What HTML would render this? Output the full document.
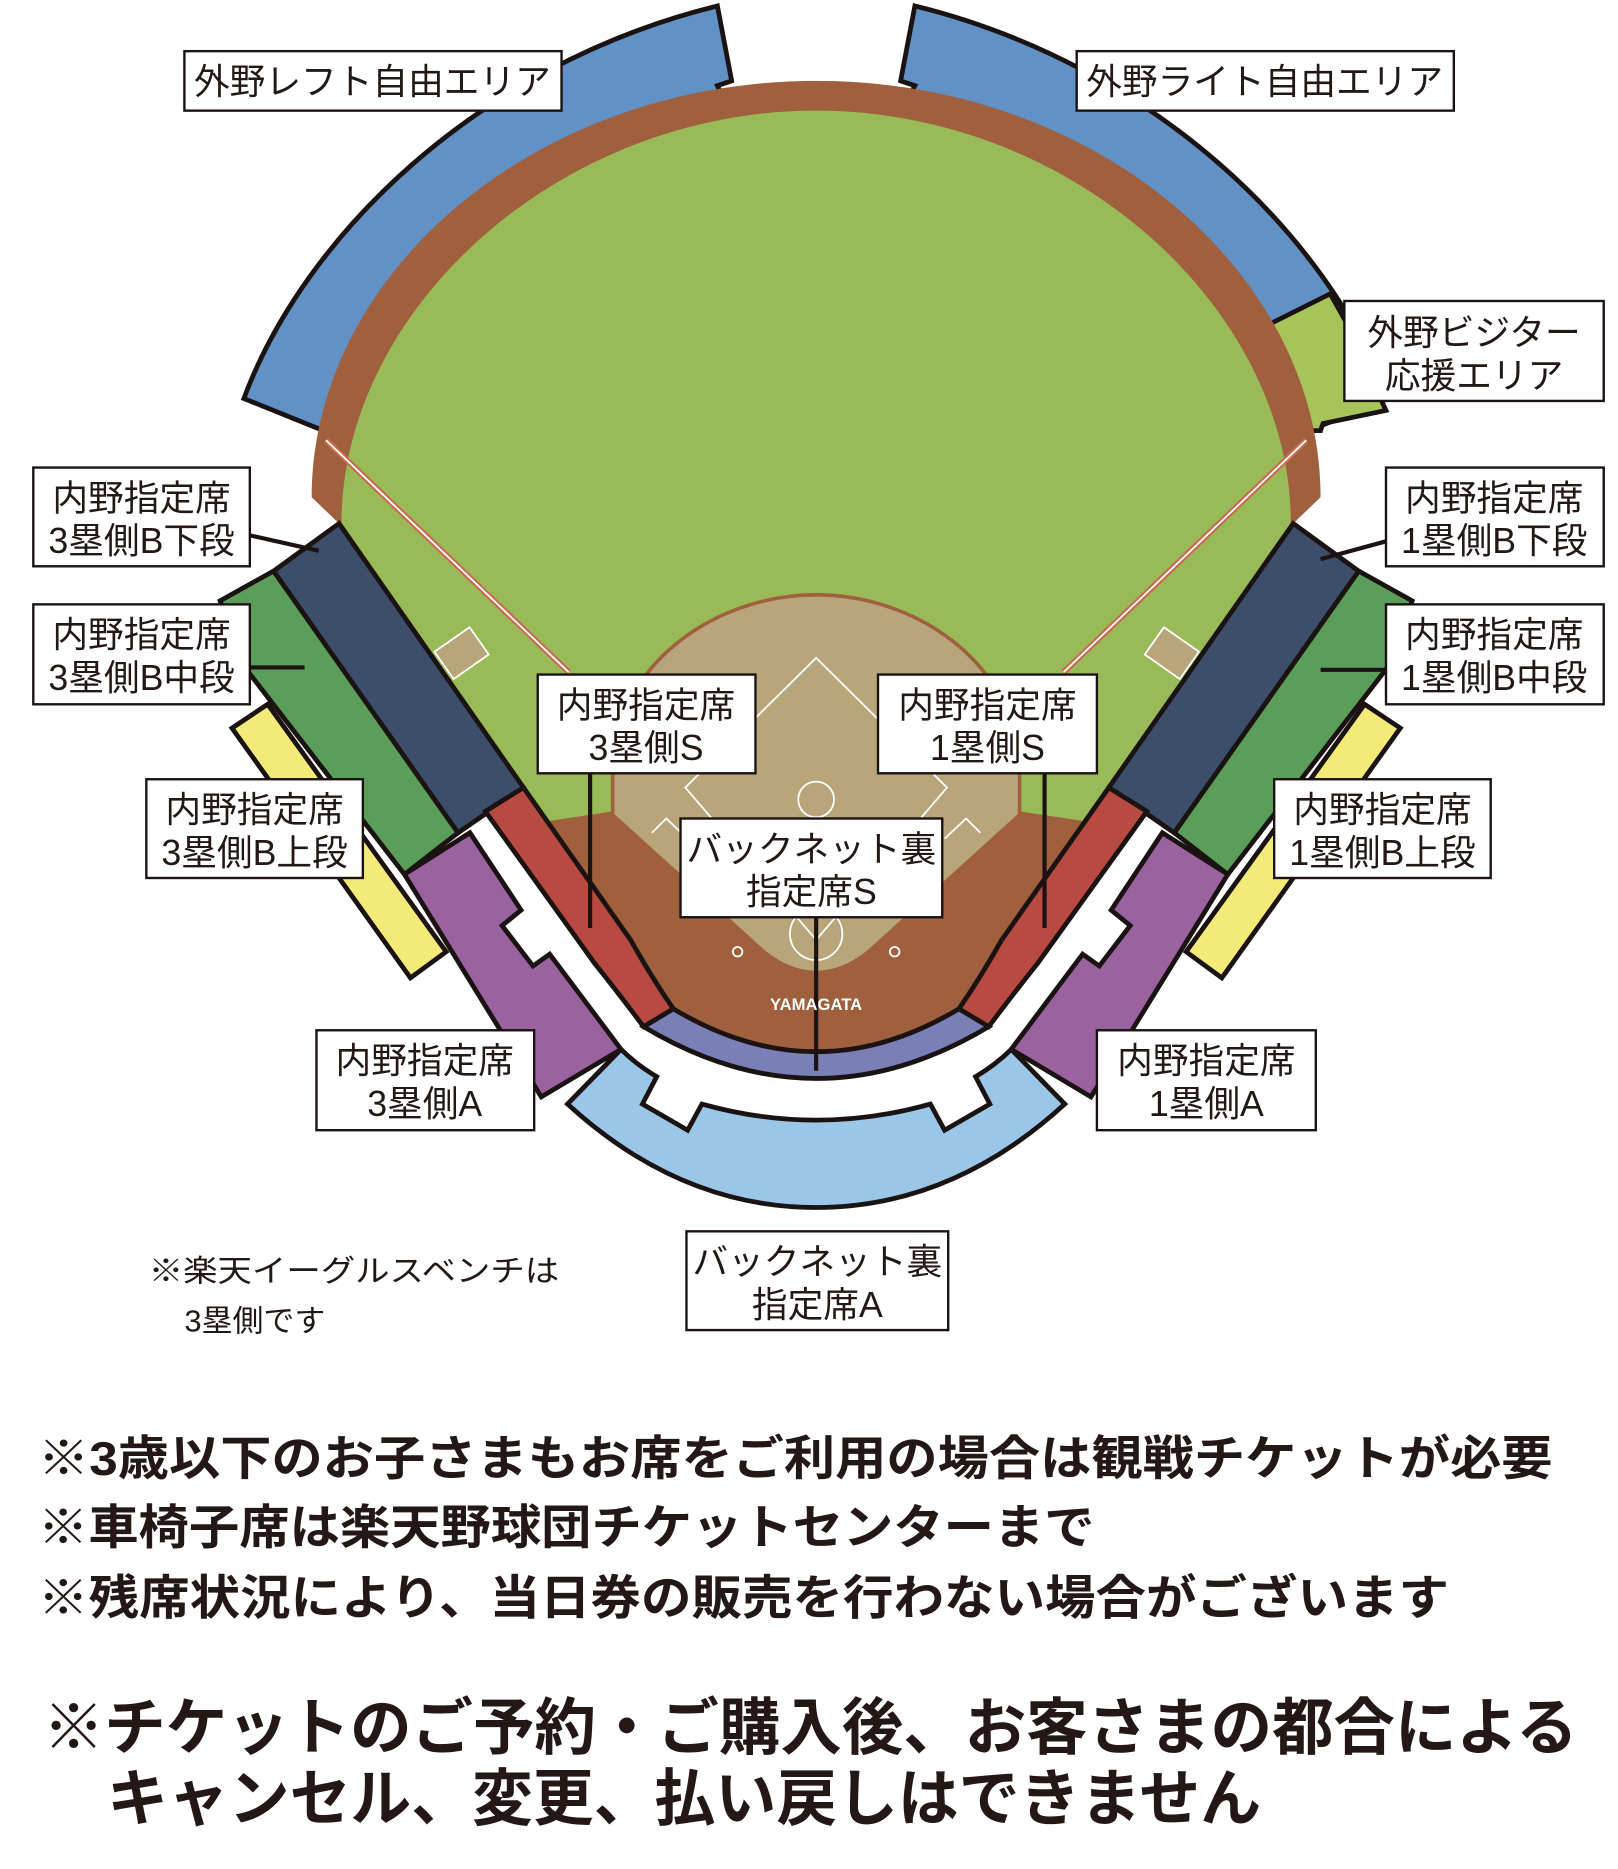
<!DOCTYPE html>
<html><head><meta charset="utf-8"><style>
html,body{margin:0;padding:0;background:#fff;}
svg{display:block;}
text{font-family:"Liberation Sans","Noto Sans CJK JP",sans-serif;fill:#231815;}
.b text{font-weight:bold;}
</style></head><body>
<svg width="1618" height="1869" viewBox="0 0 1360 1571" preserveAspectRatio="none" xmlns="http://www.w3.org/2000/svg">
<g stroke="#1a1311" stroke-width="4" stroke-linejoin="miter">
<path d="M205,335 C255,200 400,55 603,5 L615,68 L603,72 L606,78 C450,110 320,220 272,362 Z" fill="#6291c6"/>
<path d="M1167,335 C1117,200 972,55 769,5 L757,68 L769,72 L766,78 C922,110 1052,220 1100,362 Z" fill="#6291c6"/>
<path d="M1060,276 L1118,247 C1140,285 1152,310 1158,330 L1165,345 L1112,356 L1110,362 L1093,362 C1085,330 1075,300 1060,276 Z" fill="#a6c45a"/>
</g>
<path d="M262,418 C262,230 450,68 686,68 C922,68 1110,230 1110,418 L1087,440 L842,800 L686,900 L530,800 L285,440 Z" fill="#a0603e"/>
<path d="M287,440 C287,260 470,93 686,93 C902,93 1085,260 1085,440 L842,800 L686,900 L530,800 Z" fill="#98bb58"/>
<path d="M462,690 L515,682 L686,805 L857,682 L910,690 L860,820 Q686,960 512,820 Z" fill="#a0603e"/>
<path d="M515,685 L515,650 C515,560 600,500 686,500 C772,500 857,560 857,650 L857,685 L730,800 Q686,835 642,800 Z" fill="#b9a57a" stroke="#a0603e" stroke-width="3"/>
<g stroke="#fff" stroke-width="1.5" fill="none">
<path d="M686,790 L576,662 L686,553 L796,662 Z"/>
<circle cx="686" cy="672" r="15"/>
<circle cx="686" cy="785" r="22"/>
<circle cx="620" cy="800" r="4"/><circle cx="752" cy="800" r="4"/>
<path d="M548,700 L560,688 L578,705"/><path d="M824,700 L812,688 L794,705"/>
</g>
<g stroke="#c86a50" stroke-width="5"><line x1="274" y1="370" x2="478" y2="565"/><line x1="1098" y1="370" x2="894" y2="565"/></g>
<g stroke="#fff" stroke-width="1.5"><line x1="274" y1="370" x2="478" y2="565"/><line x1="1098" y1="370" x2="894" y2="565"/></g>
<rect x="370" y="535" width="36" height="28" fill="#b9a57a" stroke="#fff" stroke-width="1.5" transform="rotate(-35 388 549)"/>
<rect x="967" y="535" width="36" height="28" fill="#b9a57a" stroke="#fff" stroke-width="1.5" transform="rotate(35 985 549)"/>
<g stroke="#1a1311" stroke-width="4" stroke-linejoin="miter">
<g id="L">
<path d="M195,612 L225,592 L375,800 L345,822 Z" fill="#f3ea77"/>
<path d="M185,505 L230,480 L385,700 L340,735 L205,560 Z" fill="#5a9e5a"/>
<path d="M230,480 L285,440 L440,662 L385,700 Z" fill="#3d4e6b"/>
<path d="M408,682 L440,662 L530,790 Q548,822 566,848 L541,863 Q520,835 500,810 Z" fill="#b84a42"/>
<path d="M340,735 L395,700 L438,765 L422,778 L448,812 L462,802 L522,882 L455,922 Z" fill="#9b62a0"/>
</g>
<use href="#L" transform="translate(1372,0) scale(-1,1)"/>
<path d="M566,848 Q686,920 806,848 L831,863 Q686,950 541,863 Z" fill="#7b7fb8"/>
<path d="M522,882 Q535,895 552,905 L540,928 L578,950 L590,928 Q686,955 782,928 L794,950 L832,928 L820,905 Q837,895 850,882 L895,928 Q800,1015 686,1015 Q572,1015 477,928 Z" fill="#9ac6e8"/>
</g>
<g stroke="#1a1311" stroke-width="3.5">
<line x1="210" y1="450" x2="268" y2="463"/><line x1="210" y1="561" x2="256" y2="561"/>
<line x1="1165" y1="455" x2="1110" y2="470"/><line x1="1165" y1="563" x2="1110" y2="563"/>
<line x1="496" y1="650" x2="496" y2="780"/><line x1="878" y1="650" x2="878" y2="780"/>
<line x1="686" y1="771" x2="686" y2="900"/>
</g>
<text x="686" y="849" font-size="14" font-weight="bold" text-anchor="middle" style="fill:#fff">YAMAGATA</text>
<g fill="#fff" stroke="#1a1311" stroke-width="2">
<rect x="155" y="43" width="317" height="50"/><rect x="905" y="43" width="317" height="50"/>
<rect x="1130" y="253" width="218" height="84"/>
<rect x="28" y="393" width="182" height="83"/><rect x="28" y="508" width="182" height="84"/>
<rect x="123" y="655" width="182" height="83"/>
<rect x="1165" y="393" width="183" height="83"/><rect x="1165" y="508" width="183" height="84"/>
<rect x="1071" y="655" width="182" height="83"/>
<rect x="452" y="567" width="183" height="83"/><rect x="738" y="567" width="184" height="83"/>
<rect x="572" y="688" width="220" height="83"/>
<rect x="266" y="866" width="183" height="84"/><rect x="922" y="866" width="184" height="84"/>
<rect x="577" y="1035" width="220" height="83"/>
</g>
<g font-size="30" text-anchor="middle">
<text x="313" y="79">外野レフト自由エリア</text>
<text x="1063" y="79">外野ライト自由エリア</text>
<text x="1239" y="290">外野ビジター</text><text x="1239" y="326">応援エリア</text>
<text x="119" y="429">内野指定席</text><text x="119" y="465">3塁側B下段</text>
<text x="119" y="544">内野指定席</text><text x="119" y="580">3塁側B中段</text>
<text x="214" y="691">内野指定席</text><text x="214" y="727">3塁側B上段</text>
<text x="1256" y="429">内野指定席</text><text x="1256" y="465">1塁側B下段</text>
<text x="1256" y="544">内野指定席</text><text x="1256" y="580">1塁側B中段</text>
<text x="1162" y="691">内野指定席</text><text x="1162" y="727">1塁側B上段</text>
<text x="543" y="603">内野指定席</text><text x="543" y="639">3塁側S</text>
<text x="830" y="603">内野指定席</text><text x="830" y="639">1塁側S</text>
<text x="682" y="724">バックネット裏</text><text x="682" y="760">指定席S</text>
<text x="357" y="902">内野指定席</text><text x="357" y="938">3塁側A</text>
<text x="1014" y="902">内野指定席</text><text x="1014" y="938">1塁側A</text>
<text x="687" y="1071">バックネット裏</text><text x="687" y="1107">指定席A</text>
</g>
<text x="125" y="1077" font-size="26" textLength="345" lengthAdjust="spacingAndGlyphs">※楽天イーグルスベンチは</text>
<text x="155" y="1119" font-size="26">3塁側です</text>
<g class="b">
<text x="32" y="1240" font-size="40" textLength="1273" lengthAdjust="spacingAndGlyphs">※3歳以下のお子さまもお席をご利用の場合は観戦チケットが必要</text>
<text x="32" y="1298" font-size="40" textLength="888" lengthAdjust="spacingAndGlyphs">※車椅子席は楽天野球団チケットセンターまで</text>
<text x="32" y="1357" font-size="40" textLength="1186" lengthAdjust="spacingAndGlyphs">※残席状況により、当日券の販売を行わない場合がございます</text>
<text x="36" y="1470" font-size="52" textLength="1290" lengthAdjust="spacingAndGlyphs">※チケットのご予約・ご購入後、お客さまの都合による</text>
<text x="90" y="1530" font-size="52" textLength="970" lengthAdjust="spacingAndGlyphs">キャンセル、変更、払い戻しはできません</text>
</g>
</svg>
</body></html>
